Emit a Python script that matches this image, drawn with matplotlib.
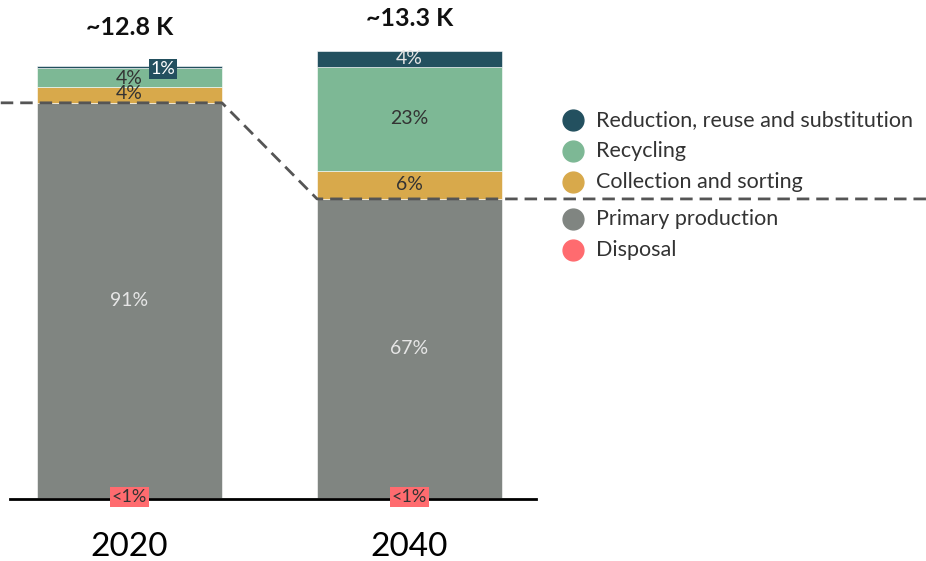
import matplotlib
matplotlib.use("Agg")
import matplotlib.pyplot as plt
from matplotlib.lines import Line2D

plt.rcParams['font.family'] = ['Lato', 'DejaVu Sans']

# Données (milliers de tonnes)
years = ["2020", "2040"]
totals = ["~12.8 K", "~13.3 K"]
categories = ["Disposal", "Primary production", "Collection and sorting",
              "Recycling", "Reduction, reuse and substitution"]
colors = ["#ff6b6f", "#808581", "#d8a94b", "#7db895", "#23505f"]
values = {
    "Disposal": [0.03, 0.03],
    "Primary production": [11.72, 8.87],
    "Collection and sorting": [0.47, 0.83],
    "Recycling": [0.56, 3.09],
    "Reduction, reuse and substitution": [0.07, 0.48],
}
labels = {
    "Disposal": ["<1%", "<1%"],
    "Primary production": ["91%", "67%"],
    "Collection and sorting": ["4%", "6%"],
    "Recycling": ["4%", "23%"],
    "Reduction, reuse and substitution": ["1%", "4%"],
}

fig = plt.figure(figsize=(9.26, 5.61), dpi=100)
ax = fig.add_axes([10/926, 62/561, 526/926, 499/561])

x = [0, 1]
width = 0.66
bottom = [0, 0]
tops = {}
for cat, col in zip(categories, colors):
    v = values[cat]
    ax.bar(x, v, width, bottom=bottom, color=col, edgecolor="white", linewidth=0.4, zorder=2)
    tops[cat] = [b + vv for b, vv in zip(bottom, v)]
    bottom = [b + vv for b, vv in zip(bottom, v)]

fs = 14
# étiquettes des segments
for i in range(2):
    p = tops["Primary production"][i]
    ax.text(x[i], p / 2, labels["Primary production"][i], ha="center", va="center",
            color="#e6e6e6", fontsize=fs, zorder=5)
    ax.text(x[i], 0.05, labels["Disposal"][i], ha="center", va="center", color="#333333",
            fontsize=13, zorder=5,
            bbox=dict(boxstyle="square,pad=0.12", fc="#ff6b6f", ec="none"))

# 2020
c = tops["Collection and sorting"][0]
r = tops["Recycling"][0]
ax.text(0, c - 0.2, labels["Collection and sorting"][0], ha="center", va="center",
        color="#333333", fontsize=fs, zorder=5)
ax.text(0, r - 0.3, labels["Recycling"][0], ha="center", va="center",
        color="#333333", fontsize=fs, zorder=5)
ax.text(0.12, tops["Reduction, reuse and substitution"][0] - 0.1,
        labels["Reduction, reuse and substitution"][0], ha="center", va="center",
        color="white", fontsize=13, zorder=5,
        bbox=dict(boxstyle="square,pad=0.1", fc="#23505f", ec="none"))
# 2040
for cat, col in [("Collection and sorting", "#333333"), ("Recycling", "#333333"),
                 ("Reduction, reuse and substitution", "#e6e6e6")]:
    t = tops[cat][1]
    ax.text(1, t - values[cat][1] / 2, labels[cat][1], ha="center", va="center",
            color=col, fontsize=fs, zorder=5)

# totaux
for i, dy in zip(range(2), [1.12, 0.95]):
    ax.text(x[i], tops["Reduction, reuse and substitution"][i] + dy, totals[i],
            ha="center", va="center", fontsize=18, fontweight="bold", color="#111111")

# ligne pointillée
p0 = tops["Primary production"][0]
p1 = tops["Primary production"][1]
ax.plot([-0.46, x[0] + width / 2, x[1] - width / 2, 4.3], [p0, p0, p1, p1],
        ls=(0, (4.5, 2.5)), color="#555555", lw=2, zorder=4, clip_on=False)

ax.set_xlim(-0.427, 1.452)
ax.set_ylim(0, 14.8)
ax.set_xticks(x)
ax.set_xticklabels(years, fontsize=24)
ax.tick_params(axis="x", length=0, pad=24)
ax.set_yticks([])
for s in ["top", "right", "left"]:
    ax.spines[s].set_visible(False)
ax.spines["bottom"].set_linewidth(2)
ax.spines["bottom"].set_color("black")

# légende
leg_y = [120, 151, 182, 219, 250]
for cat, col, yy in zip(categories[::-1], colors[::-1], leg_y):
    fy = 1 - yy / 561
    fig.add_artist(Line2D([573 / 926], [fy], marker="o", markersize=15, color=col, ls="none"))
    fig.text(596 / 926, fy, cat, ha="left", va="center", fontsize=15.5, color="#333333")

fig.savefig("out.png", dpi=100)
